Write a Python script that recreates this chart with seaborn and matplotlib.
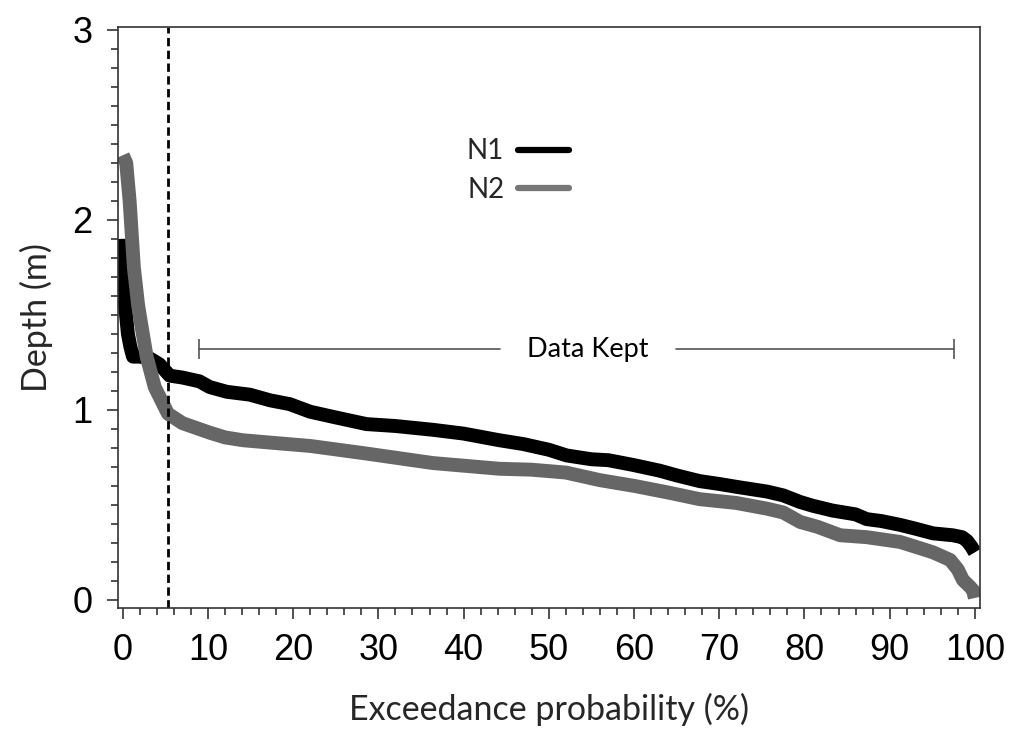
import numpy as np
import pandas as pd
import seaborn as sns
import matplotlib.pyplot as plt
from matplotlib.ticker import MultipleLocator
from matplotlib.lines import Line2D

# curve values
n1_x = [0, 0.2, 0.6, 0.9, 1.2, 2.0, 3.2, 4.3, 5.5, 7.0, 9.0, 10.2, 12.2, 14.9,
        17.3, 19.6, 22, 25, 28.6, 32, 36.4, 40, 44.2, 47, 50, 52.1, 55, 57,
        59.9, 63, 65, 67.7, 70, 72, 75.6, 77.5, 79.5, 81, 83.3, 86, 87.3, 89,
        91.2, 93, 95.1, 97.4, 98.5, 99.1, 99.6, 100]
n1_y = [1.9, 1.58, 1.4, 1.33, 1.28, 1.28, 1.27, 1.24, 1.18, 1.17, 1.15, 1.12,
        1.095, 1.08, 1.05, 1.03, 0.99, 0.96, 0.925, 0.915, 0.895, 0.875, 0.84,
        0.82, 0.79, 0.76, 0.74, 0.735, 0.71, 0.68, 0.655, 0.625, 0.61, 0.595,
        0.57, 0.55, 0.515, 0.495, 0.47, 0.45, 0.425, 0.415, 0.395, 0.375,
        0.35, 0.34, 0.33, 0.31, 0.28, 0.25]

n2_x = [0, 0.4, 0.8, 1.3, 1.8, 2.2, 2.8, 3.75, 5.3, 7.0, 10.2, 12, 14.1, 18,
        22, 28.6, 36.4, 44.2, 48, 52, 56, 60, 64, 67.7, 72, 75.6, 77.5, 79.5,
        81.5, 84.2, 87.3, 91.2, 93, 95.1, 97.1, 98, 98.6, 99.4, 99.8, 100]
n2_y = [2.34, 2.3, 2.1, 1.75, 1.55, 1.44, 1.28, 1.12, 0.98, 0.93, 0.88, 0.855,
        0.84, 0.825, 0.81, 0.77, 0.72, 0.69, 0.685, 0.67, 0.63, 0.6, 0.565,
        0.53, 0.51, 0.48, 0.46, 0.41, 0.385, 0.34, 0.33, 0.305, 0.28, 0.25,
        0.21, 0.16, 0.105, 0.07, 0.05, 0.01]

cut_x = 5.3

df = pd.concat([
    pd.DataFrame({'x': n1_x, 'y': n1_y, 'serie': 'N1'}),
    pd.DataFrame({'x': n2_x, 'y': n2_y, 'serie': 'N2'}),
])

sns.set_style("ticks")
plt.rcParams['font.family'] = ['Liberation Sans', 'DejaVu Sans']

fig = plt.figure(figsize=(10.24, 7.44), dpi=100)
ax = fig.add_axes([0.115, 0.183, 0.842, 0.781])

sns.lineplot(data=df, x='x', y='y', hue='serie', palette={'N1': 'black', 'N2': '#666666'},
             estimator=None, sort=False, linewidth=10, ax=ax, legend=False)
for l in ax.lines:
    l.set_solid_capstyle('butt')
    l.set_solid_joinstyle('round')

# linea tratteggiata del taglio
ax.axvline(cut_x, color='black', linestyle=(0, (3, 1.6)), linewidth=2.0)

# barra "Data Kept"
gray_line = '#555555'
ax.plot([8.9, 44.3], [1.32, 1.32], color=gray_line, lw=1.2)
ax.plot([64.9, 97.6], [1.32, 1.32], color=gray_line, lw=1.2)
ax.vlines([8.9, 97.6], 1.265, 1.375, color=gray_line, lw=1.2)
ax.text(54.6, 1.32, 'Data Kept', ha='center', va='center', fontsize=19.5,
        family='Lato', color='black')

# legenda con linea a destra
handles = [Line2D([], [], color='black', lw=4.5), Line2D([], [], color='#777777', lw=4.5)]
ax.legend(handles, ['N1', 'N2'], loc='upper left', bbox_to_anchor=(0.405, 0.808),
          frameon=False, markerfirst=False, handlelength=1.85, handletextpad=0.5,
          labelspacing=0.45, borderpad=0, borderaxespad=0,
          prop={'family': 'Lato', 'size': 20})

ax.set_xlim(-0.59, 100.6)
ax.set_ylim(-0.042, 3.016)
ax.set_xticks(np.arange(0, 101, 10))
ax.set_yticks([0, 1, 2, 3])
ax.xaxis.set_minor_locator(MultipleLocator(2))
ax.yaxis.set_minor_locator(MultipleLocator(0.1))
ax.tick_params(which='major', length=8, width=1.2, labelsize=26, colors='#333333',
               labelcolor='black', pad=10)
ax.tick_params(which='minor', length=5, width=1.2, colors='#333333')
for s in ax.spines.values():
    s.set_visible(True)
    s.set_color('#333333')
    s.set_linewidth(1.2)

ax.set_xlabel('Exceedance probability (%)', fontsize=24.5, family='Lato', labelpad=18)
ax.set_ylabel('Depth (m)', fontsize=24.5, family='Lato', labelpad=14)

fig.savefig('out.png', dpi=100)
